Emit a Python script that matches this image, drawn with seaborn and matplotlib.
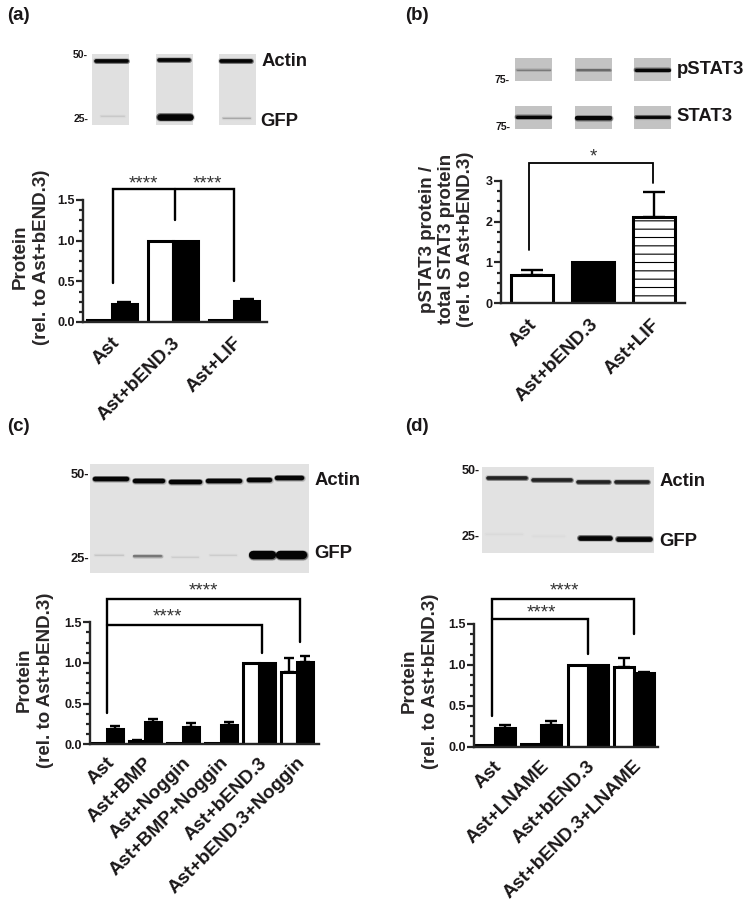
import matplotlib
matplotlib.use('Agg')
import matplotlib.pyplot as plt
import pandas as pd
import seaborn as sns
from matplotlib.patches import Rectangle
from matplotlib.ticker import AutoMinorLocator
from matplotlib.transforms import ScaledTranslation

# panel a
a_groups = ['Ast', 'Ast+bEND.3', 'Ast+LIF']
a_white = [0.02, 1.0, 0.03]
a_black = [0.22, 1.0, 0.26]
a_white_err = [0.0, 0.0, 0.0]
a_black_err = [0.03, 0.0, 0.02]

# panel b
b_groups = ['Ast', 'Ast+bEND.3', 'Ast+LIF']
b_values = [0.70, 1.0, 2.12]
b_err = [0.12, 0.0, 0.60]

# panel c
c_groups = ['Ast', 'Ast+BMP', 'Ast+Noggin', 'Ast+BMP+Noggin', 'Ast+bEND.3', 'Ast+bEND.3+Noggin']
c_white = [0.02, 0.04, 0.01, 0.01, 1.0, 0.89]
c_black = [0.19, 0.27, 0.21, 0.24, 1.0, 1.01]
c_white_err = [0.0, 0.01, 0.0, 0.0, 0.0, 0.17]
c_black_err = [0.03, 0.04, 0.05, 0.03, 0.0, 0.07]

# panel d
d_groups = ['Ast', 'Ast+LNAME', 'Ast+bEND.3', 'Ast+bEND.3+LNAME']
d_white = [0.02, 0.03, 1.0, 0.98]
d_black = [0.23, 0.27, 1.0, 0.90]
d_white_err = [0.0, 0.0, 0.0, 0.10]
d_black_err = [0.04, 0.04, 0.0, 0.01]

ink = '#1a1718'
W, H = 751, 907

sns.set_theme(style='ticks')
plt.rcParams['font.family'] = ['Liberation Sans', 'DejaVu Sans']
plt.rcParams['hatch.linewidth'] = 0.8

fig = plt.figure(figsize=(W / 100, H / 100), dpi=100)

# full figure layer in pixel coordinates, for the blots and the free labels
bg = fig.add_axes([0, 0, 1, 1], zorder=0)
bg.set_xlim(0, W)
bg.set_ylim(H, 0)
bg.axis('off')


def blot_box(x0, x1, y0, y1, grey):
    bg.add_patch(Rectangle((x0, y0), x1 - x0, y1 - y0, facecolor=grey, edgecolor='none'))


def band(x0, x1, y, px, col='#050505'):
    # soft halo then the dark core
    for extra, alpha in [(2.4, 0.18), (1.2, 0.4), (0, 1.0)]:
        bg.plot([x0, x1], [y, y], color=col, alpha=alpha, lw=(px + extra) * 0.72,
                solid_capstyle='round')


def label(x, y, s, size, ha='left'):
    bg.text(x, y, s, fontsize=size, fontweight='bold', color=ink, ha=ha, va='center')


def panel_axes(left, right, top, bottom):
    ax = fig.add_axes([left / W, 1 - bottom / H, (right - left) / W, (bottom - top) / H], zorder=2)
    ax.patch.set_alpha(0)
    return ax


def paired_bars(ax, groups, white, black, width):
    df = pd.DataFrame({
        'group': groups * 2,
        'value': white + black,
        'stain': ['white'] * len(groups) + ['black'] * len(groups),
    })
    sns.barplot(data=df, x='group', y='value', hue='stain', palette=['white', 'black'],
                edgecolor='black', linewidth=2.2, errorbar=None, gap=0, legend=False,
                width=width, ax=ax)


def error_caps(ax, errs, capsize):
    for bar, e in zip(ax.patches, errs):
        if e > 0:
            ax.errorbar(bar.get_x() + bar.get_width() / 2, bar.get_height(), yerr=[[0], [e]],
                        color='black', elinewidth=1.7, capsize=capsize, capthick=1.7, zorder=0.5)


def finish(ax, groups, xlim, ymax, yticks, ylabels, label_text, label_xy, shift, pad, spacing):
    ax.set_xlim(*xlim)
    ax.set_ylim(0, ymax)
    ax.set_yticks(yticks)
    ax.set_yticklabels(ylabels, fontsize=9, fontweight='bold', color=ink)
    ax.yaxis.set_minor_locator(AutoMinorLocator(4))
    ax.tick_params(axis='y', which='major', length=5, width=1.6, pad=1)
    ax.tick_params(axis='y', which='minor', length=2.6, width=1.6)
    ax.set_xticks(range(len(groups)))
    ax.set_xticklabels(groups, fontsize=13.7, fontweight='bold', color=ink, rotation=45,
                       ha='right', va='top', rotation_mode='anchor')
    ax.tick_params(axis='x', length=0, pad=pad)
    offset = ScaledTranslation(shift / 72, 0, fig.dpi_scale_trans)
    for t in ax.get_xticklabels():
        t.set_transform(t.get_transform() + offset)
    sns.despine(ax=ax)
    for side in ['left', 'bottom']:
        ax.spines[side].set_linewidth(1.7)
    ax.set_xlabel('')
    ax.set_ylabel(label_text, fontsize=13.5, fontweight='bold', color='#2a2728', linespacing=spacing,
                  ha='center', va='bottom', multialignment='center')
    ax.yaxis.set_label_coords(label_xy[0], label_xy[1], transform=bg.transData)


def bracket(ax, pts, lw=1.7):
    xs, ys = zip(*pts)
    ax.plot(xs, ys, color='black', lw=lw, clip_on=False, solid_joinstyle='miter', zorder=3)


def stars(ax, x, y, s='****'):
    ax.text(x, y, s, fontsize=13.5, color='#333333', ha='center', va='center', clip_on=False)


# ---- panel a
label(7, 16, '(a)', 13.5)
for x0 in [92.3, 156, 219.3]:
    blot_box(x0, x0 + 37, 54, 125.3, '#e0e0e0')
band(95.5, 127, 60.7, 3.6)
band(159, 189, 60, 3.6)
band(221, 251, 61.3, 3.6)
band(101, 124, 116.3, 1, '#c9c9c9')
band(160, 190, 117.3, 6.5)
band(223, 250, 117.6, 1, '#a8a8a8')
label(88, 55, '50-', 7.6, 'right')
label(88, 119, '25-', 7.6, 'right')
label(261.5, 61, 'Actin', 13.3)
label(260, 121, 'GFP', 13.3)

ax = panel_axes(83, 267, 200, 322)
paired_bars(ax, a_groups, a_white, a_black, 0.82)
error_caps(ax, a_white_err + a_black_err, 5)
finish(ax, a_groups, (-0.475, 2.54), 1.5, [0, 0.5, 1.0, 1.5], ['0.0', '0.5', '1.0', '1.5'],
       'Protein\n(rel. to Ast+bEND.3)', (50, 257), -0.8, 9, 1.3)
bracket(ax, [(0.01, 0.483), (0.01, 1.635), (2.0, 1.635), (2.0, 0.508)])
bracket(ax, [(1.03, 1.635), (1.03, 1.254)])
stars(ax, 0.51, 1.70)
stars(ax, 1.56, 1.70)

# ---- panel b
label(405.5, 16, '(b)', 13.5)
for x0 in [515, 575, 633.7]:
    blot_box(x0, x0 + 37.3, 58, 81.3, '#c3c3c3')
    blot_box(x0, x0 + 37.3, 106, 129.3, '#c3c3c3')
band(517, 550, 70, 1.2, '#7a7a7a')
band(577, 610, 70, 1.5, '#5c5c5c')
band(636, 669, 70, 3.2)
band(517, 550, 117, 3.2)
band(577, 610, 117.5, 4.2)
band(636, 669, 117, 2.8)
label(509.5, 80, '75-', 7.5, 'right')
label(511, 127.5, '75-', 7.5, 'right')
label(676.5, 69.5, 'pSTAT3', 13.3)
label(676.5, 116.5, 'STAT3', 13.3)

ax = panel_axes(501, 685, 180.7, 303.3)
sns.barplot(x=b_groups, y=b_values, hue=b_groups, palette=['white', 'black', 'white'],
            edgecolor='black', linewidth=2.2, width=0.68, errorbar=None, dodge=False, legend=False, ax=ax)
ax.patches[2].set_hatch('--')
error_caps(ax, b_err, 7.6)
finish(ax, b_groups, (-0.508, 2.508), 3, [0, 1, 2, 3], ['0', '1', '2', '3'],
       'pSTAT3 protein /\ntotal STAT3 protein\n(rel. to Ast+bEND.3)', (474, 239), -2.5, 9, 1.17)
bracket(ax, [(-0.05, 1.30), (-0.05, 3.44), (1.99, 3.44), (1.99, 2.94)], lw=1.3)
stars(ax, 1.0, 3.57, '*')

# ---- panel c
label(7, 426.5, '(c)', 13.5)
blot_box(90, 308.7, 464.3, 573.3, '#e2e2e2')
for x0, x1, y in [(95, 127, 479.3), (135, 163, 481.3), (171, 200, 482.3),
                  (208, 240, 480.7), (249, 270, 480), (277, 302, 478.3)]:
    band(x0, x1, y, 4.4)
band(95, 123, 554.7, 1, '#c6c6c6')
band(134, 161, 556, 2.2, '#777777')
band(172, 198, 556.5, 1, '#cdcdcd')
band(210, 236, 554.5, 1, '#cdcdcd')
band(253, 272, 555, 8.2)
band(280, 303, 554.5, 8.2)
label(89, 475.5, '50-', 9.3, 'right')
label(89, 558.5, '25-', 9.3, 'right')
label(315, 480.5, 'Actin', 13.3)
label(314, 553, 'GFP', 13.3)

ax = panel_axes(90, 319, 622.3, 744.3)
paired_bars(ax, c_groups, c_white, c_black, 0.86)
error_caps(ax, c_white_err + c_black_err, 3.4)
finish(ax, c_groups, (-0.447, 5.58), 1.5, [0, 0.5, 1.0, 1.5], ['0.0', '0.5', '1.0', '1.5'],
       'Protein\n(rel. to Ast+bEND.3)', (54, 680), -0.6, 7.2, 1.3)
bracket(ax, [(0, 0.388), (0, 1.783), (5.09, 1.783), (5.09, 1.254)])
bracket(ax, [(0, 1.464), (4.07, 1.464), (4.07, 1.12)])
stars(ax, 2.55, 1.89)
stars(ax, 1.60, 1.56)

# ---- panel d
label(405.5, 426.5, '(d)', 13.5)
blot_box(481.7, 654.3, 467.3, 553.3, '#e2e2e2')
for x0, x1, y in [(488, 526, 478.3), (533, 571, 480), (578, 609, 481.7), (616, 648, 482)]:
    band(x0, x1, y, 3.5, '#222222')
band(486, 522, 534.3, 1, '#dadada')
band(533, 564, 536, 1, '#dcdcdc')
band(580, 610, 537.5, 4.6)
band(618, 650, 539, 4.6)
label(479.5, 471.5, '50-', 9, 'right')
label(479.5, 537, '25-', 9, 'right')
label(659.3, 481.5, 'Actin', 13.3)
label(659.3, 541, 'GFP', 13.3)

ax = panel_axes(474, 657.7, 624, 746.7)
paired_bars(ax, d_groups, d_white, d_black, 0.86)
error_caps(ax, d_white_err + d_black_err, 4.2)
finish(ax, d_groups, (-0.45, 3.5), 1.5, [0, 0.5, 1.0, 1.5], ['0.0', '0.5', '1.0', '1.5'],
       'Protein\n(rel. to Ast+bEND.3)', (439, 681), -1.0, 8, 1.3)
bracket(ax, [(-0.06, 0.375), (-0.06, 1.80), (2.99, 1.80), (2.99, 1.381)])
bracket(ax, [(-0.06, 1.557), (2.0, 1.557), (2.0, 1.13)])
stars(ax, 1.5, 1.90)
stars(ax, 1.0, 1.63)

fig.savefig('out.png', dpi=100)
